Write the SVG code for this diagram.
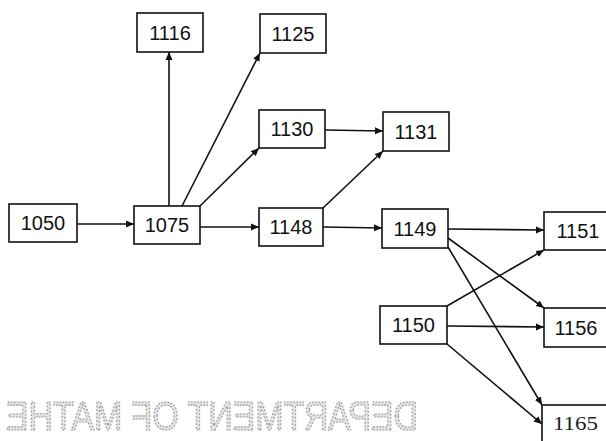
<svg xmlns="http://www.w3.org/2000/svg" width="606" height="441" viewBox="0 0 606 441">
<style>
.box{fill:#fff;stroke:#111;stroke-width:1.6}
.lbl{font-family:"Liberation Sans",Arial,sans-serif;font-size:20px;fill:#111;text-anchor:middle}
.edge{stroke:#111;stroke-width:1.6;fill:none;marker-end:url(#ah)}
.ghost{font-family:"Liberation Sans",Arial,sans-serif;font-size:33px;fill:#e4e4e4;stroke:#8a8a8a;stroke-width:0.9;stroke-dasharray:1.5 1.5}
</style>
<defs>
<marker id="ah" markerUnits="userSpaceOnUse" markerWidth="9" markerHeight="8" refX="8" refY="4" orient="auto">
<path d="M0,0.5 L8,4 L0,7.5 z" fill="#111"/>
</marker>
</defs>
<rect width="606" height="441" fill="#fff"/>
<g id="bleed">
<text class="ghost" transform="translate(418,430) scale(-1,1.21)" x="0" y="0" textLength="412" lengthAdjust="spacingAndGlyphs">DEPARTMENT OF MATHE</text>
</g>
<g id="connectors">
<line class="edge" x1="77" y1="224" x2="134" y2="224"/>
<line class="edge" x1="200" y1="227" x2="259" y2="227"/>
<line class="edge" x1="169" y1="206" x2="169" y2="52"/>
<line class="edge" x1="182" y1="206" x2="260" y2="53"/>
<line class="edge" x1="200" y1="206" x2="259" y2="148"/>
<line class="edge" x1="325" y1="130" x2="383" y2="131"/>
<line class="edge" x1="323" y1="208" x2="383" y2="151"/>
<line class="edge" x1="323" y1="227" x2="382" y2="228"/>
<line class="edge" x1="448" y1="229" x2="544" y2="230"/>
<line class="edge" x1="448" y1="238" x2="544" y2="308"/>
<line class="edge" x1="448" y1="247" x2="542" y2="405"/>
<line class="edge" x1="447" y1="306" x2="544" y2="250"/>
<line class="edge" x1="447" y1="326" x2="544" y2="327"/>
<line class="edge" x1="447" y1="344" x2="542" y2="424"/>
</g>
<g id="n1116"><rect class="box" x="137" y="13" width="66" height="39"/><text class="lbl" x="170" y="39.5">1116</text></g>
<g id="n1125"><rect class="box" x="260" y="14" width="66" height="39"/><text class="lbl" x="293" y="40.5">1125</text></g>
<g id="n1130"><rect class="box" x="259" y="110" width="66" height="38"/><text class="lbl" x="292" y="136">1130</text></g>
<g id="n1131"><rect class="box" x="383" y="112" width="66" height="39"/><text class="lbl" x="416" y="138.5">1131</text></g>
<g id="n1050"><rect class="box" x="9" y="204" width="68" height="38"/><text class="lbl" x="43" y="230">1050</text></g>
<g id="n1075"><rect class="box" x="134" y="206" width="66" height="38"/><text class="lbl" x="167" y="232">1075</text></g>
<g id="n1148"><rect class="box" x="259" y="208" width="64" height="38"/><text class="lbl" x="291" y="234">1148</text></g>
<g id="n1149"><rect class="box" x="382" y="209" width="66" height="39"/><text class="lbl" x="415" y="235.5">1149</text></g>
<g id="n1151"><rect class="box" x="544" y="212" width="80" height="38"/><text class="lbl" x="578" y="238">1151</text></g>
<g id="n1150"><rect class="box" x="380" y="306" width="67" height="38"/><text class="lbl" x="413.5" y="332">1150</text></g>
<g id="n1156"><rect class="box" x="544" y="308" width="80" height="39"/><text class="lbl" x="576" y="334.5">1156</text></g>
<g id="n1165"><rect class="box" x="542" y="405" width="80" height="50"/><text x="553" y="430" textLength="45" lengthAdjust="spacingAndGlyphs" style="font-family:'Liberation Serif','Times New Roman',serif;font-size:18px;fill:#222">1165</text></g>
</svg>
